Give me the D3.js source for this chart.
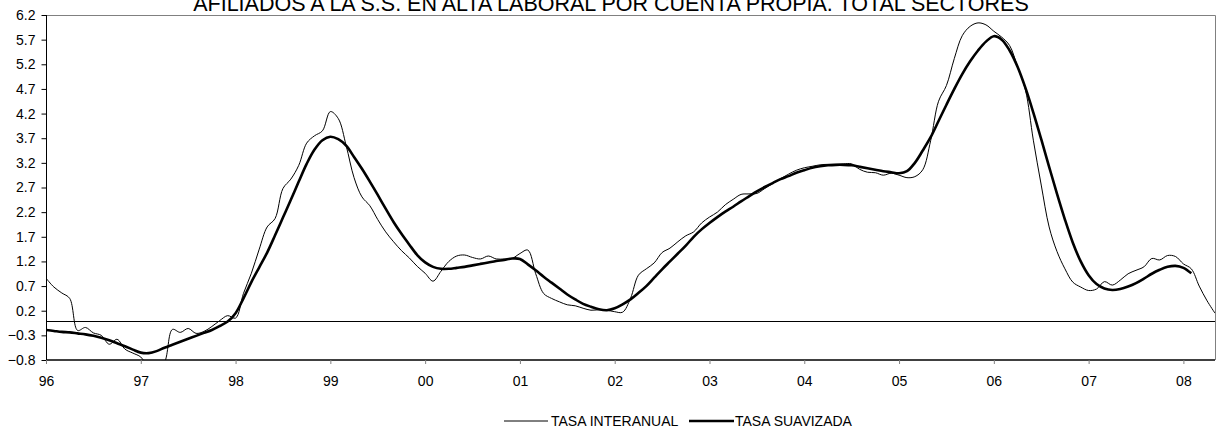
<!DOCTYPE html>
<html>
<head>
<meta charset="utf-8">
<script src="https://cdn.jsdelivr.net/npm/d3@7"></script>
<style>
  html, body { margin: 0; padding: 0; background: #fff; }
  svg { display: block; }
  text { font-family: "Liberation Sans", Arial, sans-serif; fill: #000; }
</style>
</head>
<body>
<svg id="chart" width="1216" height="435"></svg>
<script>
// Monthly series, January 1996 onwards
const startYear = 1996;
const tasaInteranual = [
  0.86, 0.68, 0.56, 0.45, -0.20, -0.14, -0.25, -0.30, -0.48, -0.38, -0.58, -0.66,
  -0.74, -0.95, -1.00, -0.85, -0.18, -0.24, -0.16, -0.26, -0.22, -0.12, 0.00, 0.10,
  0.05, 0.55, 0.96, 1.45, 1.90, 2.07, 2.68, 2.87, 3.15, 3.60, 3.75, 3.85,
  4.24, 4.10, 3.55, 2.90, 2.51, 2.33, 2.05, 1.80, 1.60, 1.42, 1.27, 1.10,
  0.96, 0.80, 1.00, 1.20, 1.31, 1.33, 1.28, 1.25, 1.31, 1.25, 1.25, 1.26,
  1.36, 1.43, 0.95, 0.55, 0.45, 0.38, 0.32, 0.30, 0.25, 0.21, 0.22, 0.21,
  0.18, 0.17, 0.45, 0.92, 1.05, 1.17, 1.38, 1.47, 1.60, 1.72, 1.80, 1.98,
  2.10, 2.20, 2.35, 2.46, 2.56, 2.57, 2.58, 2.68, 2.78, 2.88, 2.97, 3.05,
  3.10, 3.13, 3.16, 3.17, 3.17, 3.18, 3.18, 3.07, 3.01, 3.00, 2.95, 2.99,
  2.95, 2.90, 2.92, 3.06, 3.65, 4.45, 4.77, 5.32, 5.78, 5.97, 6.04, 6.00,
  5.87, 5.75, 5.58, 5.15, 4.68, 3.66, 2.75, 1.90, 1.40, 1.05, 0.78, 0.68,
  0.61, 0.64, 0.79, 0.72, 0.82, 0.95, 1.02, 1.09, 1.26, 1.23, 1.32, 1.30,
  1.15, 1.05, 0.70, 0.40, 0.15
];
const tasaSuavizada = [
  -0.19, -0.21, -0.23, -0.24, -0.26, -0.28, -0.31, -0.35, -0.40, -0.46, -0.52, -0.59,
  -0.65, -0.66, -0.62, -0.55, -0.49, -0.43, -0.37, -0.31, -0.25, -0.19, -0.11, -0.02,
  0.15, 0.45, 0.78, 1.08, 1.38, 1.73, 2.09, 2.45, 2.82, 3.18, 3.47, 3.66,
  3.73, 3.68, 3.55, 3.32, 3.08, 2.82, 2.55, 2.27, 2.00, 1.76, 1.54, 1.33,
  1.18, 1.09, 1.05, 1.05, 1.07, 1.09, 1.12, 1.15, 1.18, 1.21, 1.23, 1.26,
  1.25, 1.14, 1.02, 0.89, 0.77, 0.65, 0.53, 0.43, 0.34, 0.28, 0.23, 0.21,
  0.25, 0.33, 0.43, 0.56, 0.70, 0.87, 1.04, 1.20, 1.36, 1.52, 1.70, 1.85,
  1.98, 2.10, 2.21, 2.31, 2.42, 2.52, 2.62, 2.71, 2.79, 2.87, 2.93, 3.00,
  3.05, 3.10, 3.13, 3.15, 3.16, 3.16, 3.15, 3.12, 3.09, 3.06, 3.03, 3.01,
  2.99, 3.03, 3.20, 3.45, 3.72, 4.05, 4.38, 4.70, 5.00, 5.26, 5.48, 5.66,
  5.77, 5.70, 5.48, 5.15, 4.72, 4.22, 3.68, 3.12, 2.57, 2.05, 1.58, 1.20,
  0.92, 0.74, 0.65, 0.62, 0.64, 0.69, 0.76, 0.85, 0.95, 1.03, 1.09, 1.11,
  1.07, 0.96
];
const yTicks = [-0.8, -0.3, 0.2, 0.7, 1.2, 1.7, 2.2, 2.7, 3.2, 3.7, 4.2, 4.7, 5.2, 5.7, 6.2];
const yearTicks = [1996, 1997, 1998, 1999, 2000, 2001, 2002, 2003, 2004, 2005, 2006, 2007, 2008];
const seriesNames = ["TASA INTERANUAL", "TASA SUAVIZADA"];
const chartTitle = "AFILIADOS A LA S.S. EN ALTA LABORAL POR CUENTA PROPIA. TOTAL SECTORES";

const svg = d3.select("#chart");
const plotL = 46, plotR = 1215, plotT = 15, plotB = 360;

const x = d3.scaleLinear().domain([1996, 2008 + 4 / 12]).range([plotL, plotR]);
const y = d3.scaleLinear().domain([-0.8, 6.2]).range([plotB, plotT]);

const toPoints = arr => arr.map((v, i) => ({ t: startYear + i / 12, v }));

svg.append("defs").append("clipPath").attr("id", "plotClip")
  .append("rect").attr("x", plotL).attr("y", plotT).attr("width", plotR - plotL).attr("height", plotB - plotT);

// Title, running off the top edge
svg.append("text")
  .attr("x", 611).attr("y", 10.5)
  .attr("text-anchor", "middle")
  .style("font-size", "21.5px")
  .text(chartTitle);

// Frame: top and right sides in grey
svg.append("path")
  .attr("d", `M${plotL},${plotT + 0.5}H${plotR + 0.5}V${plotB}`)
  .attr("fill", "none").attr("stroke", "#808080").attr("stroke-width", 1);

// Zero reference line
svg.append("line")
  .attr("x1", plotL).attr("x2", plotR)
  .attr("y1", Math.round(y(0)) + 0.5).attr("y2", Math.round(y(0)) + 0.5)
  .attr("stroke", "#000").attr("stroke-width", 1);

const line = d3.line()
  .x(d => x(d.t)).y(d => y(d.v))
  .curve(d3.curveCatmullRom.alpha(0.5));

const plot = svg.append("g").attr("clip-path", "url(#plotClip)");
plot.append("path")
  .attr("d", line(toPoints(tasaInteranual)))
  .attr("fill", "none").attr("stroke", "#000").attr("stroke-width", 1);
plot.append("path")
  .attr("d", line(toPoints(tasaSuavizada)))
  .attr("fill", "none").attr("stroke", "#000").attr("stroke-width", 2.6)
  .attr("stroke-linejoin", "round");

// Y axis
const yAxis = svg.append("g")
  .attr("transform", `translate(${plotL + 0.5},0)`)
  .call(d3.axisLeft(y).tickValues(yTicks).tickFormat(d3.format(".1f")).tickSize(5).tickPadding(6));
yAxis.select(".domain").attr("stroke", "#000").attr("d", `M0,${plotT}V${plotB}`);
yAxis.selectAll("text").style("font-size", "14px").attr("font-family", null);

// X axis
const xAxis = svg.append("g")
  .attr("transform", `translate(0,${plotB})`)
  .call(d3.axisBottom(x).tickValues(yearTicks).tickFormat(d => String(d).slice(2)).tickSize(4).tickPadding(12));
xAxis.select(".domain").attr("stroke", "#000").attr("stroke-width", 1.6).attr("d", `M${plotL},0H${plotR}`);
xAxis.selectAll(".tick line").attr("stroke", "#808080");
xAxis.selectAll("text").style("font-size", "14px").attr("font-family", null);

// Legend
const legendY = 421;
const legend = svg.append("g");
legend.append("line").attr("x1", 504).attr("x2", 548).attr("y1", legendY).attr("y2", legendY)
  .attr("stroke", "#000").attr("stroke-width", 1);
legend.append("text").attr("x", 551).attr("y", legendY + 5).style("font-size", "14px").text(seriesNames[0]);
legend.append("line").attr("x1", 689).attr("x2", 734).attr("y1", legendY).attr("y2", legendY)
  .attr("stroke", "#000").attr("stroke-width", 2.6);
legend.append("text").attr("x", 735).attr("y", legendY + 5).style("font-size", "14px").text(seriesNames[1]);
</script>
</body>
</html>
